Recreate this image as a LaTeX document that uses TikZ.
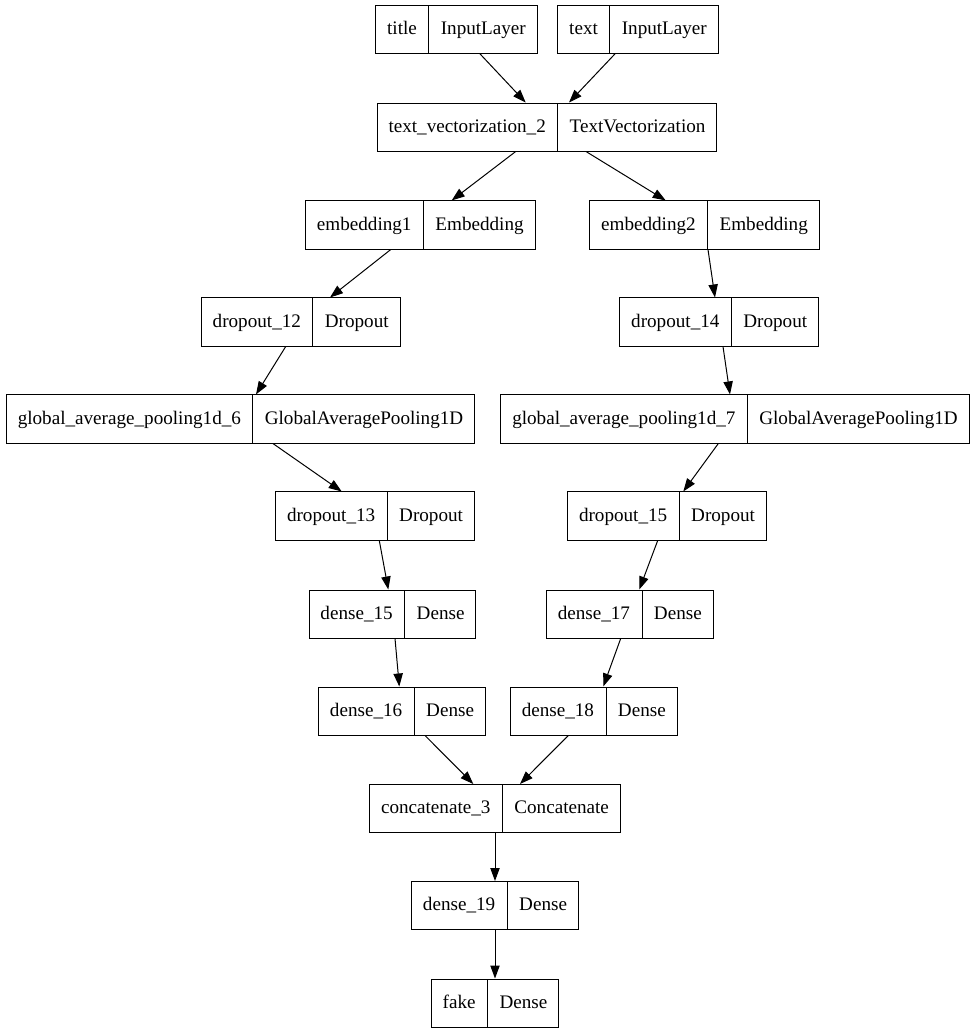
\documentclass[tikz,border=0pt]{standalone}
\usepackage{fontspec}
\setmainfont{Liberation Serif}
\usetikzlibrary{shapes.multipart,arrows.meta,calc}
\newcommand{\lstrut}{\rule[-3pt]{0pt}{14pt}}
\newcommand{\lay}[2]{\lstrut#1\nodepart{two}\lstrut#2}

\begin{document}
\begin{tikzpicture}[x=0.75pt, y=-0.75pt,
    layer/.style={rectangle split, rectangle split horizontal, rectangle split parts=2, draw, line width=0.75pt, inner xsep=8.6pt, inner ysep=11pt, minimum height=36pt, font=\fontsize{14.35}{17}\selectfont},
    ar/.style={line width=0.75pt, -{Triangle[length=9.75pt,width=7pt]}}]
    \fill [white] (0,0) rectangle (976,1033);
    \useasboundingbox (0,0) rectangle (976,1033);
    % inputs
    \node [layer] (title) at (456.5,29.3) {\lay{title}{InputLayer}};
    \node [layer] (text) at (638,29.3) {\lay{text}{InputLayer}};
    \node [layer] (tv) at (547,127) {\lay{text\_vectorization\_2}{TextVectorization}};
    % two branches
    \node [layer] (emb1) at (420.3,225) {\lay{embedding1}{Embedding}};
    \node [layer] (emb2) at (704.5,225) {\lay{embedding2}{Embedding}};
    \node [layer] (drop12) at (300.7,322) {\lay{dropout\_12}{Dropout}};
    \node [layer] (drop14) at (719.2,322) {\lay{dropout\_14}{Dropout}};
    \node [layer] (gap6) at (240.5,419) {\lay{global\_average\_pooling1d\_6}{GlobalAveragePooling1D}};
    \node [layer] (gap7) at (735,419) {\lay{global\_average\_pooling1d\_7}{GlobalAveragePooling1D}};
    \node [layer] (drop13) at (375,516) {\lay{dropout\_13}{Dropout}};
    \node [layer] (drop15) at (667,516) {\lay{dropout\_15}{Dropout}};
    \node [layer] (dense15) at (392.5,614) {\lay{dense\_15}{Dense}};
    \node [layer] (dense17) at (629.8,614) {\lay{dense\_17}{Dense}};
    \node [layer] (dense16) at (402,711) {\lay{dense\_16}{Dense}};
    \node [layer] (dense18) at (593.8,711) {\lay{dense\_18}{Dense}};
    % merge and output
    \node [layer] (concat) at (495,808.5) {\lay{concatenate\_3}{Concatenate}};
    \node [layer] (dense19) at (495,905.5) {\lay{dense\_19}{Dense}};
    \node [layer] (fake) at (495,1003) {\lay{fake}{Dense}};
    % edges
    \draw [ar] ($(title.south)+(23.5,0)$) -- ($(tv.north)+(-21.3,0)$);
    \draw [ar] ($(text.south)+(-23,0)$) -- ($(tv.north)+(22,0)$);
    \draw [ar] ($(tv.south)+(-31.3,0)$) -- ($(emb1.north)+(31.4,0)$);
    \draw [ar] ($(tv.south)+(39,0)$) -- ($(emb2.north)+(-38.8,0)$);
    \draw [ar] ($(emb1.south)+(-29.6,0)$) -- ($(drop12.north)+(29.3,0)$);
    \draw [ar] ($(emb2.south)+(3.5,0)$) -- ($(drop14.north)+(-4.2,0)$);
    \draw [ar] ($(drop12.south)+(-15,0)$) -- ($(gap6.north)+(15.5,0)$);
    \draw [ar] ($(drop14.south)+(3.8,0)$) -- ($(gap7.north)+(-5,0)$);
    \draw [ar] ($(gap6.south)+(32.5,0)$) -- ($(drop13.north)+(-33.3,0)$);
    \draw [ar] ($(gap7.south)+(-16.7,0)$) -- ($(drop15.north)+(16.3,0)$);
    \draw [ar] ($(drop13.south)+(4.3,0)$) -- ($(dense15.north)+(-4.2,0)$);
    \draw [ar] ($(drop15.south)+(-9.3,0)$) -- ($(dense17.north)+(9.5,0)$);
    \draw [ar] ($(dense15.south)+(2.5,0)$) -- ($(dense16.north)+(-2.7,0)$);
    \draw [ar] ($(dense17.south)+(-9.1,0)$) -- ($(dense18.north)+(9.5,0)$);
    \draw [ar] ($(dense16.south)+(23,0)$) -- ($(concat.north)+(-21.7,0)$);
    \draw [ar] ($(dense18.south)+(-25.5,0)$) -- ($(concat.north)+(25,0)$);
    \draw [ar] (concat.south) -- (dense19.north);
    \draw [ar] (dense19.south) -- (fake.north);
\end{tikzpicture}
\end{document}
